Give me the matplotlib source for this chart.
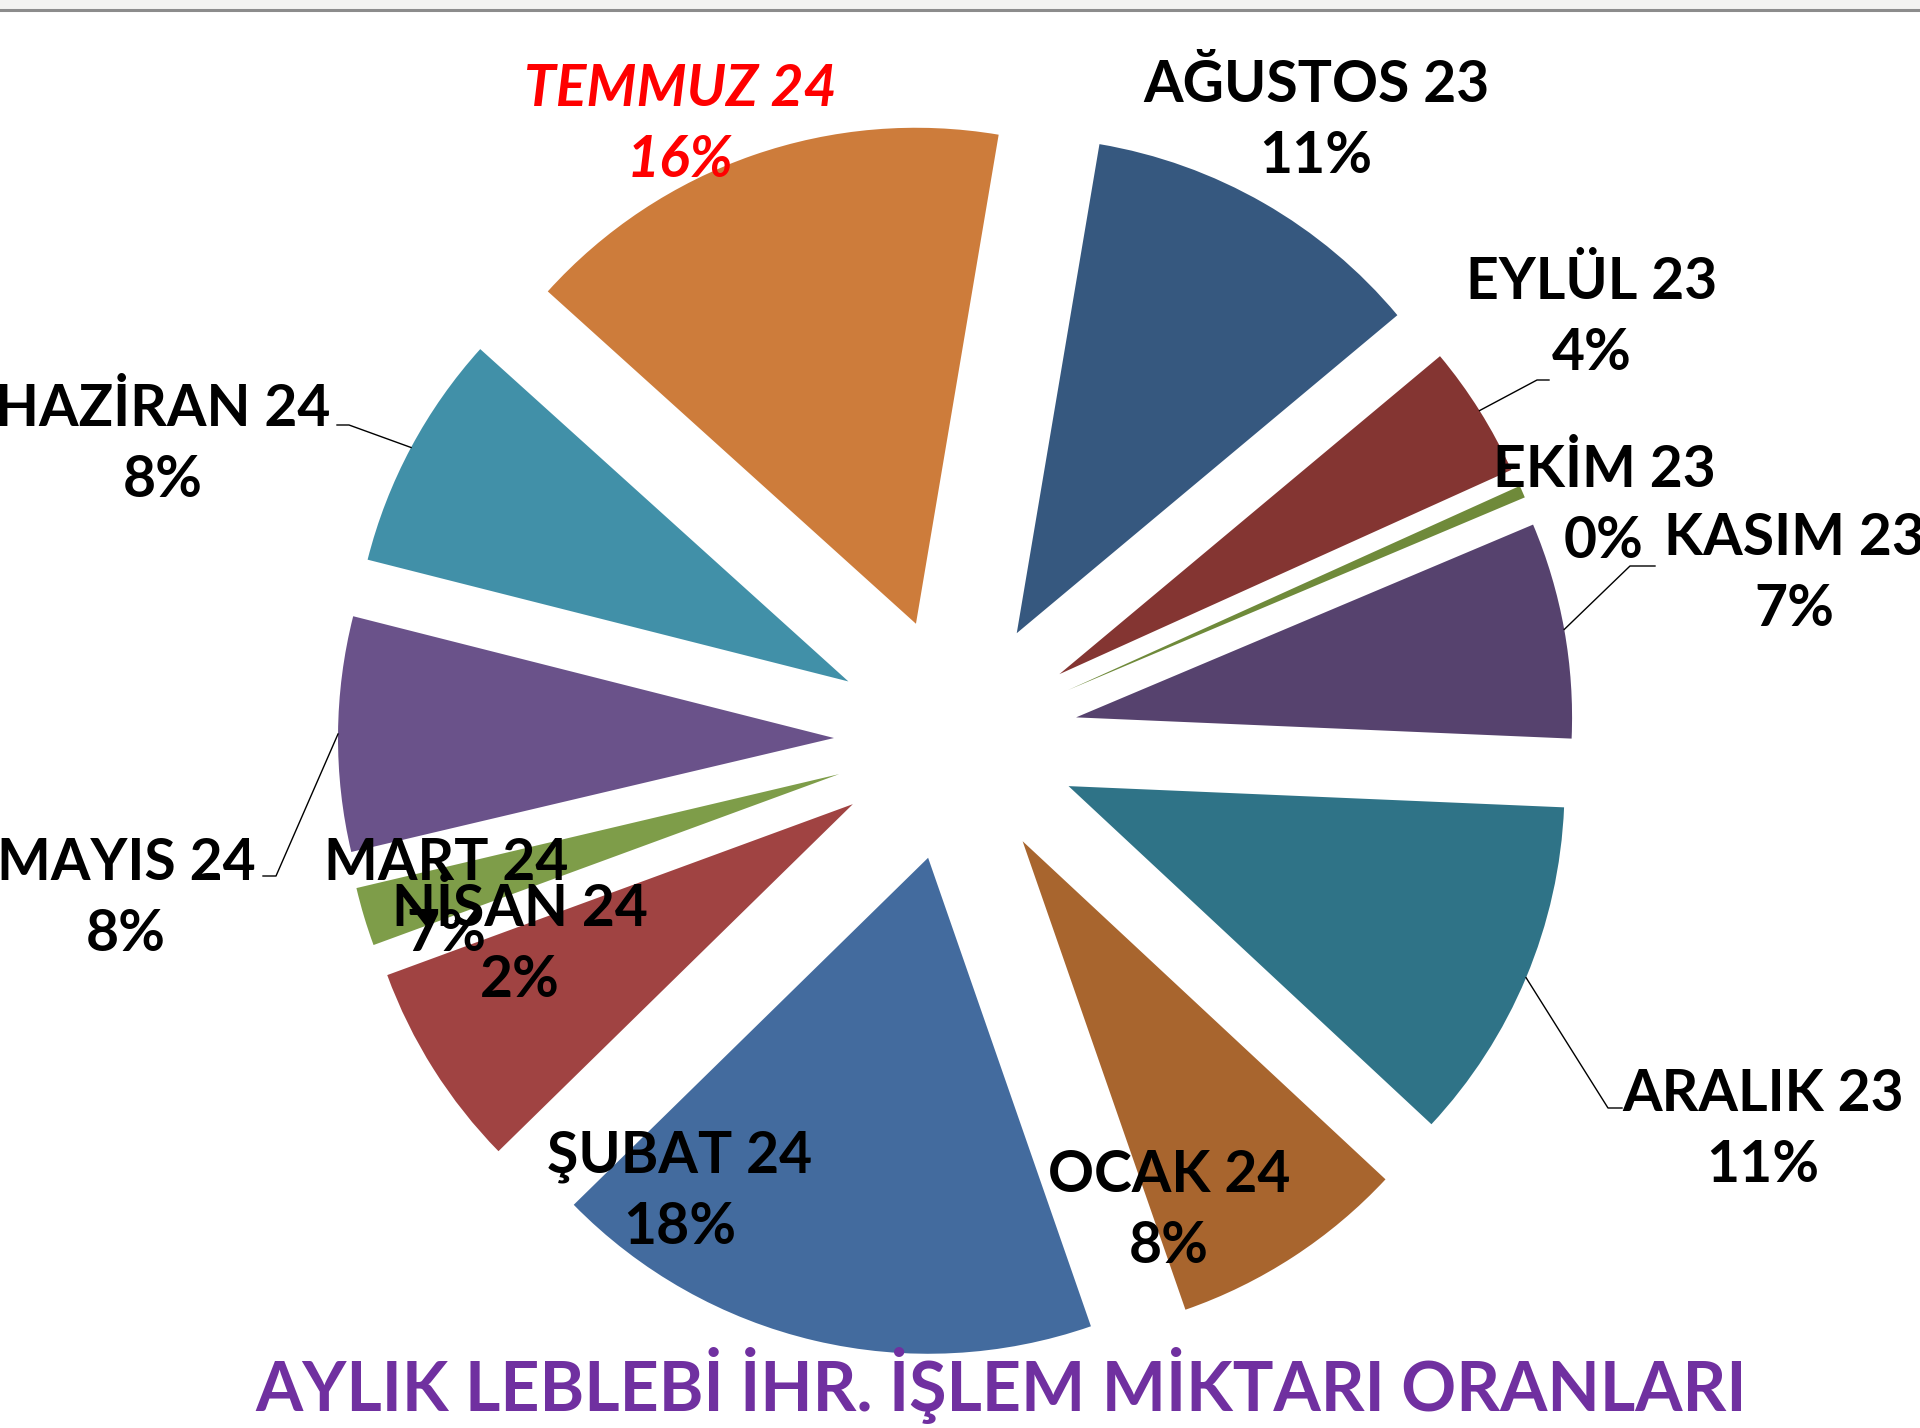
import numpy as np
import matplotlib.pyplot as plt

plt.rcParams['font.family'] = ['Lato', 'DejaVu Sans']

W, H = 1920, 1428

# months, clockwise from the top
months = ['AĞUSTOS 23', 'EYLÜL 23', 'EKİM 23', 'KASIM 23', 'ARALIK 23', 'OCAK 24',
          'ŞUBAT 24', 'MART 24', 'NİSAN 24', 'MAYIS 24', 'HAZİRAN 24', 'TEMMUZ 24']
shares = [11.2, 4.3, 0.4, 7.0, 11.2, 7.7, 17.9, 6.7, 1.9, 7.6, 7.7, 15.9]
colors = ['#36587F', '#843532', '#6F8A3A', '#56426E', '#2F7387', '#A8652E',
          '#436B9E', '#A04342', '#7E9D49', '#6A528A', '#4190A8', '#CD7C3B']
title = 'AYLIK LEBLEBİ İHR. İŞLEM MİKTARI ORANLARI'

# label centres in image pixels (x, y from top)
label_pos = [(1316, 121), (1592, 318), (1604, 506), (1794, 574), (1763, 1130),
             (1169, 1211), (680, 1192), (446, 899), (520, 945), (126, 899),
             (163, 445), (680, 125)]
# leader lines: elbow and end point (image pixels), only for some labels
leaders = {1: [(1537, 380), (1549, 380)],
           3: [(1630, 566), (1655, 566)],
           4: [(1608, 1108), (1622, 1108)],
           9: [(276, 876), (263, 876)],
           10: [(349, 425), (337, 425)]}

fig = plt.figure(figsize=(W / 100, H / 100), dpi=100)
ax = fig.add_axes([0, 0, 1, 1])

radius = 496
cx, cy = 956, H - 739
wedges, _ = ax.pie(shares, colors=colors, startangle=80.4, counterclock=False,
                   explode=[122] * len(shares), radius=radius, center=(cx, cy),
                   wedgeprops=dict(linewidth=0))
ax.set_xlim(0, W)
ax.set_ylim(0, H)
ax.set_aspect('auto')
ax.axis('off')

pct = np.array(shares) / sum(shares) * 100
for i, (name, p) in enumerate(zip(months, pct)):
    x, y = label_pos[i]
    red = name == 'TEMMUZ 24'
    ax.text(x, H - y, f'{name}\n{p:.0f}%', ha='center', va='center',
            fontsize=41, fontweight='bold', linespacing=1.42,
            color='#FF0000' if red else 'black',
            style='italic' if red else 'normal', zorder=5)

for i, pts in leaders.items():
    w = wedges[i]
    tm = np.deg2rad((w.theta1 + w.theta2) / 2)
    x0 = w.center[0] + w.r * np.cos(tm)
    y0 = w.center[1] + w.r * np.sin(tm)
    xs = [x0] + [p[0] for p in pts]
    ys = [y0] + [H - p[1] for p in pts]
    ax.plot(xs, ys, color='black', lw=1.0, zorder=4)

# thin grey rule at the very top of the cropped slide
ax.axhspan(H - 9, H, color='#F3F3F1', lw=0)
ax.axhline(H - 10, color='#8C8C8C', lw=2.2)

ax.text(1001, H - 1386, title, ha='center', va='center', fontsize=49,
        fontweight='bold', color='#7030A0')

fig.savefig('out.png', dpi=100)
